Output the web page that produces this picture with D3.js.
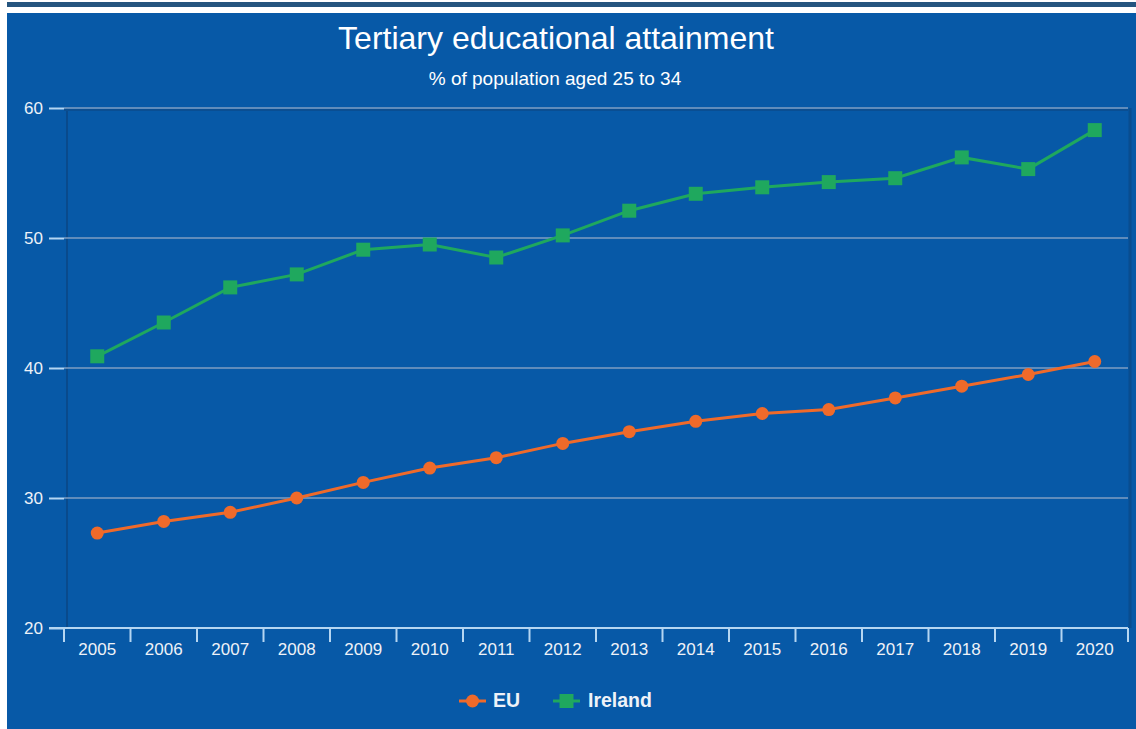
<!DOCTYPE html>
<html><head><meta charset="utf-8">
<script src="https://cdn.jsdelivr.net/npm/d3@7"></script>
<style>body{margin:0;background:#fff;}svg{display:block;font-family:"Liberation Sans",Arial,sans-serif;}</style>
</head><body>
<svg id="c" width="1136" height="729"></svg>
<script>
const years = ["2005","2006","2007","2008","2009","2010","2011","2012","2013","2014","2015","2016","2017","2018","2019","2020"];
const euValues = [27.3,28.2,28.9,30.0,31.2,32.3,33.1,34.2,35.1,35.9,36.5,36.8,37.7,38.6,39.5,40.5];
const irelandValues = [40.9,43.5,46.2,47.2,49.1,49.5,48.5,50.2,52.1,53.4,53.9,54.3,54.6,56.2,55.3,58.3];
const yTicks = [20,30,40,50,60];
const seriesNames = ["EU","Ireland"];
const seriesColors = ["#ef6a2a","#1fa85e"];

const svg = d3.select("#c");
// top band
svg.append("rect").attr("x",7).attr("y",2).attr("width",1129).attr("height",5).attr("fill","#25557f");
// panel
svg.append("rect").attr("x",7).attr("y",13).attr("width",1129).attr("height",716).attr("fill","#0759a7");

const L=64, R=1128, T=108, B=628;
const x = d3.scaleBand().domain(years).range([L,R]);
const y = d3.scaleLinear().domain([20,60]).range([B,T]);

// plot frame shadows
svg.append("line").attr("x1",67).attr("x2",67).attr("y1",T).attr("y2",B).attr("stroke","#094a8c").attr("stroke-width",2);
svg.append("line").attr("x1",1130).attr("x2",1130).attr("y1",T).attr("y2",B).attr("stroke","#094d8f").attr("stroke-width",3);
svg.append("line").attr("x1",L).attr("x2",R).attr("y1",T+2).attr("y2",T+2).attr("stroke","#0a4e92").attr("stroke-width",2);

// grid
svg.append("g").selectAll("line").data(yTicks.filter(d=>d>20)).join("line")
  .attr("x1",L).attr("x2",R).attr("y1",d=>y(d)).attr("y2",d=>y(d))
  .attr("stroke","#7f9ec2").attr("stroke-width",1.5);

// y axis
const ya = svg.append("g").attr("transform",`translate(${L},0)`)
  .call(d3.axisLeft(y).tickValues(yTicks).tickSize(15).tickPadding(6));
ya.select(".domain").remove();
ya.selectAll(".tick line").attr("stroke","#b5d6f2").attr("stroke-width",2);
ya.selectAll(".tick text").attr("fill","#eef2f8").attr("font-size",17).attr("font-family","Liberation Sans, Arial, sans-serif");

// x axis
svg.append("line").attr("x1",49).attr("x2",R).attr("y1",B).attr("y2",B).attr("stroke","#b5d6f2").attr("stroke-width",2);
const xa = svg.append("g").attr("transform",`translate(0,${B})`)
  .call(d3.axisBottom(x).tickSize(0).tickPadding(15));
xa.select(".domain").remove();
xa.selectAll(".tick text").attr("fill","#eef2f8").attr("font-size",17).attr("font-family","Liberation Sans, Arial, sans-serif");
svg.append("g").selectAll("line").data(years.concat(["end"])).join("line")
  .attr("x1",(d,i)=>L+i*x.bandwidth()).attr("x2",(d,i)=>L+i*x.bandwidth())
  .attr("y1",B).attr("y2",B+14).attr("stroke","#b5d6f2").attr("stroke-width",2);

const cx = d=>x(d)+x.bandwidth()/2;
const line = d3.line().x((d,i)=>cx(years[i])).y(d=>y(d));

// Ireland
svg.append("path").datum(irelandValues).attr("d",line).attr("fill","none").attr("stroke",seriesColors[1]).attr("stroke-width",3);
svg.append("g").selectAll("rect").data(irelandValues).join("rect")
  .attr("x",(d,i)=>cx(years[i])-7).attr("y",d=>y(d)-7).attr("width",14).attr("height",14).attr("fill",seriesColors[1]);
// EU
svg.append("path").datum(euValues).attr("d",line).attr("fill","none").attr("stroke",seriesColors[0]).attr("stroke-width",3);
svg.append("g").selectAll("circle").data(euValues).join("circle")
  .attr("cx",(d,i)=>cx(years[i])).attr("cy",d=>y(d)).attr("r",6.5).attr("fill",seriesColors[0]);

// title
svg.append("text").attr("x",556).attr("y",49).attr("text-anchor","middle").attr("fill","#fff")
  .attr("font-size",32).text("Tertiary educational attainment");
svg.append("text").attr("x",555).attr("y",85).attr("text-anchor","middle").attr("fill","#fff")
  .attr("font-size",19).text("% of population aged 25 to 34");

// legend
const leg = [{x:459,tx:493},{x:553,tx:588}];
seriesNames.forEach((n,i)=>{
  const g = svg.append("g");
  g.append("line").attr("x1",leg[i].x).attr("x2",leg[i].x+27).attr("y1",701).attr("y2",701).attr("stroke",seriesColors[i]).attr("stroke-width",3);
  if(i===0) g.append("circle").attr("cx",leg[i].x+13.5).attr("cy",701).attr("r",6.5).attr("fill",seriesColors[i]);
  else g.append("rect").attr("x",leg[i].x+6.5).attr("y",694).attr("width",14).attr("height",14).attr("fill",seriesColors[i]);
  g.append("text").attr("x",leg[i].tx).attr("y",707).attr("fill","#eef2f8").attr("font-size",19.5).attr("font-weight","bold").text(n);
});
</script>
</body></html>
